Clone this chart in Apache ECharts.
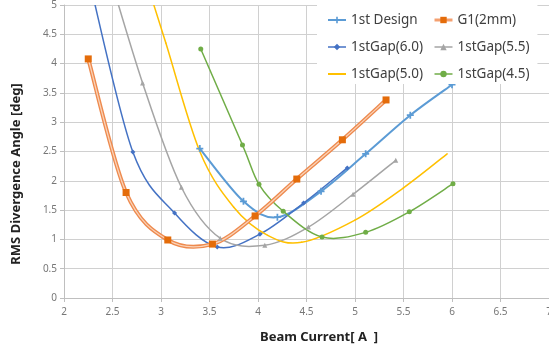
<!DOCTYPE html>
<html>
<head>
<meta charset="utf-8">
<script src="https://cdn.jsdelivr.net/npm/echarts@6/dist/echarts.min.js"></script>
<style>html,body{margin:0;padding:0;background:#fff}#c{width:549px;height:349px}</style>
</head>
<body>
<div id="c"></div>
<script>
var xTicks = ['2','2.5','3','3.5','4','4.5','5','5.5','6','6.5','7'];
var yTicks = ['0','0.5','1','1.5','2','2.5','3','3.5','4','4.5','5'];

var design1X = [3.40, 3.85, 4.20, 4.65, 5.11, 5.57, 6.00];
var design1Y = [2.55, 1.65, 1.38, 1.82, 2.46, 3.12, 3.64];

var g1X = [2.25, 2.64, 3.07, 3.53, 3.97, 4.40, 4.87, 5.32];
var g1Y = [4.08, 1.80, 0.99, 0.92, 1.40, 2.03, 2.70, 3.38];

var gap60X = [2.27, 2.71, 3.14, 3.58, 4.02, 4.47, 4.92];
var gap60Y = [5.35, 2.49, 1.45, 0.87, 1.09, 1.62, 2.22];

var gap55X = [2.40, 2.81, 3.21, 3.61, 4.07, 4.52, 4.98, 5.42];
var gap55Y = [5.90, 3.67, 1.89, 1.02, 0.90, 1.21, 1.77, 2.35];

var gap50X = [2.85, 3.05, 3.40, 3.75, 4.10, 4.45, 5.00, 5.50, 5.95];
var gap50Y = [5.40, 4.35, 2.50, 1.55, 1.07, 0.95, 1.33, 1.88, 2.46];

var gap45X = [3.41, 3.84, 4.01, 4.26, 4.66, 5.11, 5.56, 6.01];
var gap45Y = [4.25, 2.61, 1.94, 1.48, 1.04, 1.12, 1.47, 1.95];

function pairs(xs, ys) { return xs.map(function (x, i) { return [x, ys[i]]; }); }

var plusPath = 'path://M3,0h2v3h3v2h-3v3h-2v-3h-3v-2h3z';

// Excel-like smooth curve (Catmull-Rom as cubic Bezier) drawn through the library's coordinate mapping
function curveSeries(xs, ys, strokes) {
  return {
    type: 'custom', clip: true, silent: true, z: 2,
    data: pairs(xs, ys),
    encode: {x: 0, y: 1},
    renderItem: function (params, api) {
      if (params.dataIndex !== 0) return null;
      var p = xs.map(function (x, i) { return api.coord([x, ys[i]]); });
      var children = [];
      strokes.forEach(function (s) {
        for (var i = 0; i < p.length - 1; i++) {
          var p0 = p[Math.max(i - 1, 0)], p1 = p[i], p2 = p[i + 1], p3 = p[Math.min(i + 2, p.length - 1)];
          children.push({
            type: 'bezierCurve',
            shape: {
              x1: p1[0], y1: p1[1], x2: p2[0], y2: p2[1],
              cpx1: p1[0] + (p2[0] - p0[0]) / 6, cpy1: p1[1] + (p2[1] - p0[1]) / 6,
              cpx2: p2[0] - (p3[0] - p1[0]) / 6, cpy2: p2[1] - (p3[1] - p1[1]) / 6
            },
            style: {stroke: s.color, lineWidth: s.width, fill: null, lineCap: 'round'}
          });
        }
      });
      return {type: 'group', children: children};
    }
  };
}

function markerSeries(name, xs, ys, symbol, size, color, z) {
  return {
    name: name, type: 'line', data: pairs(xs, ys),
    symbol: symbol, symbolSize: size, showSymbol: symbol !== 'none',
    itemStyle: {color: color}, lineStyle: {color: color, opacity: 0}, z: z || 3
  };
}

function legendItem(name, color, width, icon) {
  var it = {name: name, lineStyle: {color: color, width: width, opacity: 1}};
  if (icon) { it.icon = icon; it.itemStyle = {color: color}; }
  return it;
}

var chart = echarts.init(document.getElementById('c'), null, {renderer: 'canvas'});
var legendText = {fontSize: 13.5, color: '#404040', fontFamily: 'Noto Sans'};
chart.setOption({
  animation: false,
  backgroundColor: '#fff',
  grid: {left: 64, right: 0, top: 5, bottom: 51, containLabel: false, outerBoundsMode: 'none'},
  xAxis: {
    type: 'value', min: 2, max: 7, interval: 0.5,
    axisLine: {show: true, lineStyle: {color: '#BFBFBF'}},
    axisTick: {show: true, length: 4, lineStyle: {color: '#BFBFBF'}},
    axisLabel: {fontSize: 10, color: '#777', margin: 9, fontFamily: 'Noto Sans',
      formatter: function (v) { var i = Math.round((v - 2) / 0.5); return xTicks[i] || ''; }},
    splitLine: {show: true, lineStyle: {color: '#D0D0D0'}}
  },
  yAxis: {
    type: 'value', min: 0, max: 5, interval: 0.5,
    axisLine: {show: true, lineStyle: {color: '#BFBFBF'}},
    axisTick: {show: true, length: 4, lineStyle: {color: '#BFBFBF'}},
    axisLabel: {fontSize: 10, color: '#777', margin: 7, fontFamily: 'Noto Sans',
      formatter: function (v) { var i = Math.round(v / 0.5); return yTicks[i] || ''; }},
    splitLine: {show: true, lineStyle: {color: '#D0D0D0'}}
  },
  legend: [
    {data: [legendItem('1st Design', '#5B9BD5', 2), legendItem('1stGap(6.0)', '#4472C4', 1.5),
            legendItem('1stGap(5.0)', '#FFC000', 1.5, 'path://M0,0H18V2H0Z')],
     orient: 'vertical', left: 317, top: 5,
     padding: [8, 8, 3, 10], itemWidth: 18, itemHeight: 8, itemGap: 13, backgroundColor: '#fff',
     textStyle: legendText},
    {data: [legendItem('G1(2mm)', '#F4A070', 3), legendItem('1stGap(5.5)', '#A5A5A5', 1.5),
            legendItem('1stGap(4.5)', '#70AD47', 1.5)],
     orient: 'vertical', left: 423, top: 5,
     padding: [8, 8, 3, 10], itemWidth: 18, itemHeight: 8, itemGap: 13, backgroundColor: '#fff',
     textStyle: legendText}
  ],
  graphic: [
    {type: 'text', x: 16, y: 174, rotation: Math.PI / 2,
     style: {text: 'RMS Divergence Angle [deg]', font: 'bold 13px "Noto Sans"', fill: '#222',
             align: 'center', verticalAlign: 'middle'}},
    {type: 'text', x: 319, y: 337,
     style: {text: 'Beam Current[ A  ]', font: 'bold 13px "Noto Sans"', fill: '#222',
             align: 'center', verticalAlign: 'middle'}}
  ],
  series: [
    markerSeries('1st Design', design1X, design1Y, plusPath, 7, '#5B9BD5'),
    markerSeries('G1(2mm)', g1X, g1Y, 'rect', 7, '#E46C0A', 5),
    markerSeries('1stGap(6.0)', gap60X, gap60Y, 'diamond', 5, '#4472C4'),
    markerSeries('1stGap(5.5)', gap55X, gap55Y, 'triangle', 5, '#A5A5A5'),
    markerSeries('1stGap(5.0)', gap50X, gap50Y, 'none', 5, '#FFC000'),
    markerSeries('1stGap(4.5)', gap45X, gap45Y, 'circle', 5, '#70AD47'),
    curveSeries(design1X, design1Y, [{color: '#5B9BD5', width: 2}]),
    curveSeries(gap60X, gap60Y, [{color: '#4472C4', width: 1.5}]),
    curveSeries(gap55X, gap55Y, [{color: '#A5A5A5', width: 1.5}]),
    curveSeries(gap50X, gap50Y, [{color: '#FFC000', width: 1.5}]),
    curveSeries(gap45X, gap45Y, [{color: '#70AD47', width: 1.5}]),
    curveSeries(g1X, g1Y, [{color: '#EE8A4E', width: 4}, {color: '#FAD3B8', width: 1.3}])
  ]
});
</script>
</body>
</html>
